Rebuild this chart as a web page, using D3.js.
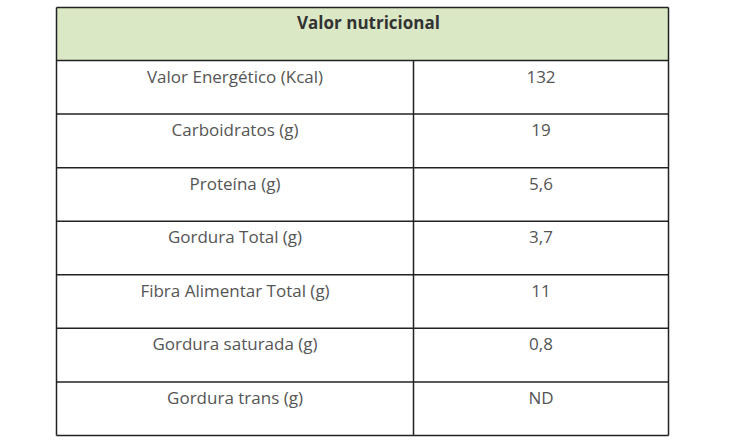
<!DOCTYPE html>
<html><head><meta charset="utf-8">
<script src="https://cdn.jsdelivr.net/npm/d3@7"></script>
<style>body{margin:0;background:#fff}</style></head>
<body><svg id="c" width="730" height="441"></svg>
<script>
const title = "Valor nutricional";
const nutrients = ["Valor Energético (Kcal)", "Carboidratos (g)", "Proteína (g)", "Gordura Total (g)", "Fibra Alimentar Total (g)", "Gordura saturada (g)", "Gordura trans (g)"];
const values = ["132", "19", "5,6", "3,7", "11", "0,8", "ND"];

const svg = d3.select("#c");
const tLeft = 56.5, tRight = 668.5, tTop = 7.5, headBottom = 60.5, tBottom = 435.5, divider = 413.5;
const y = d3.scaleBand().domain(d3.range(nutrients.length)).range([headBottom, tBottom]);
const font = "'Open Sans', 'Noto Sans', sans-serif";

svg.append("rect").attr("x", tLeft).attr("y", tTop).attr("width", tRight - tLeft).attr("height", headBottom - tTop)
  .attr("fill", "#dbe8c5");
svg.append("text").attr("x", (tLeft + tRight) / 2 + 6).attr("y", tTop + 21).attr("text-anchor", "middle")
  .attr("font-family", font).attr("font-weight", 700).attr("font-size", 17).attr("fill", "#333").text(title);

const rows = svg.append("g").selectAll("g").data(nutrients).join("g")
  .attr("transform", (d, i) => `translate(0,${y(i)})`);
rows.append("text").attr("x", (tLeft + divider) / 2).attr("y", 22).attr("text-anchor", "middle")
  .attr("font-family", font).attr("font-size", 17).attr("fill", "#555").text(d => d);
rows.append("text").attr("x", (divider + tRight) / 2).attr("y", 22).attr("text-anchor", "middle")
  .attr("font-family", font).attr("font-size", 17).attr("fill", "#555").text((d, i) => values[i]);

const line = (x1, y1, x2, y2) => svg.append("line").attr("x1", x1).attr("y1", y1).attr("x2", x2).attr("y2", y2)
  .attr("stroke", "#222").attr("stroke-width", 1.5);
line(tLeft, tTop, tRight, tTop);
line(tLeft, tTop, tLeft, tBottom);
line(tRight, tTop, tRight, tBottom);
line(divider, headBottom, divider, tBottom);
d3.range(nutrients.length).forEach(i => line(tLeft, y(i), tRight, y(i)));
line(tLeft, tBottom, tRight, tBottom);
</script></body></html>
